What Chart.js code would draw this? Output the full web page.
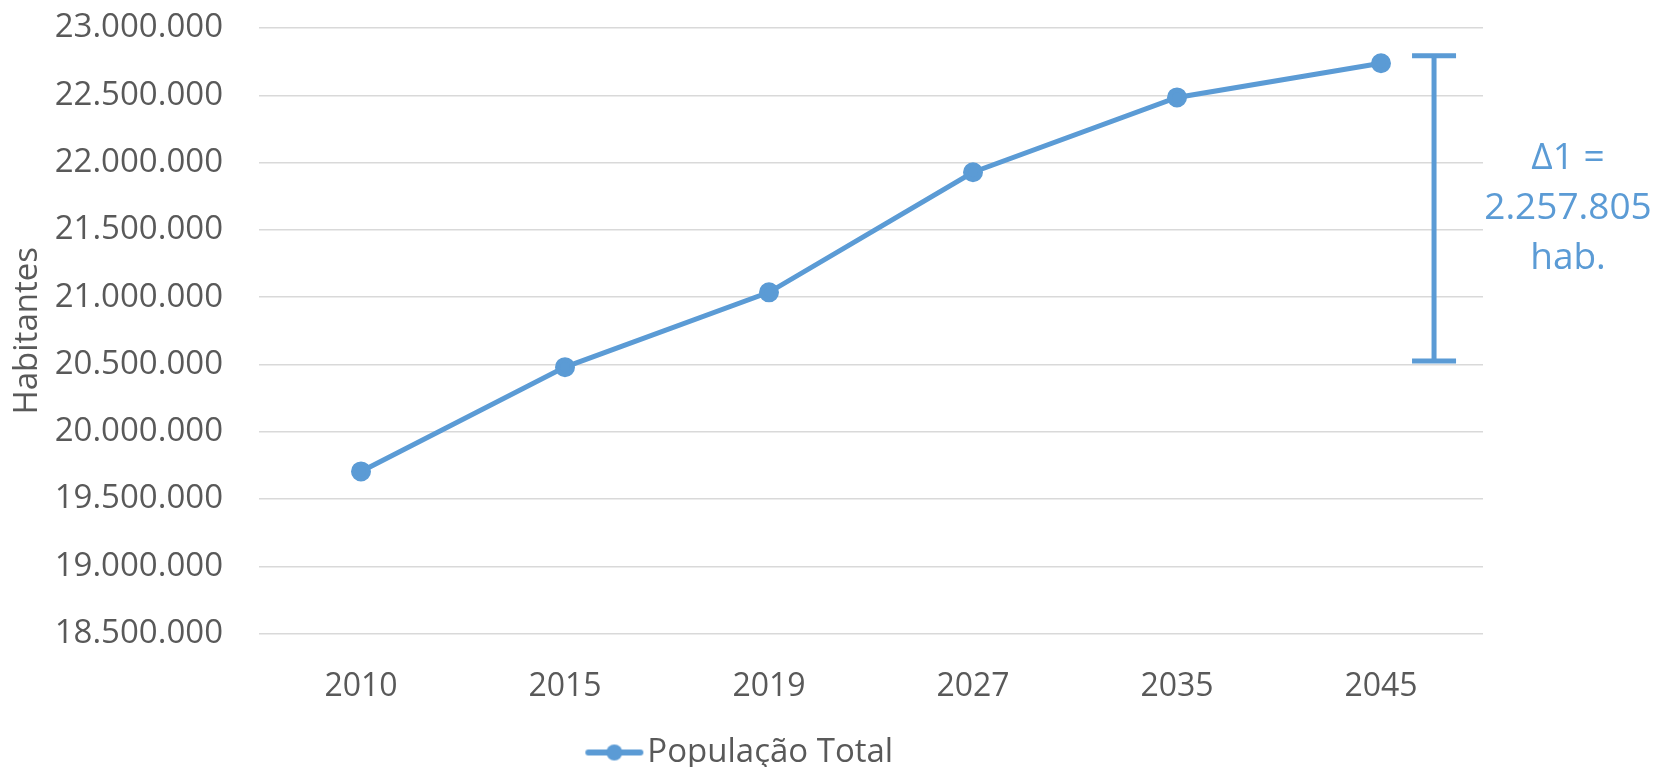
<!DOCTYPE html>
<html>
<head>
<meta charset="utf-8">
<script src="https://cdn.jsdelivr.net/npm/chart.js@4.4.1/dist/chart.umd.min.js"></script>
<style>
  html, body { margin: 0; padding: 0; background: #fff; }
  #wrap { width: 1655px; height: 767px; position: relative; }
</style>
</head>
<body>
<div id="wrap"><canvas id="chart"></canvas></div>
<script>
// População total projetada
const years = ['2010', '2015', '2019', '2027', '2035', '2045'];
const populacao = [19705000, 20480000, 21036000, 21928000, 22484000, 22738000];

// faixa do delta (barra à direita)
const deltaRange = [20526000, 22794000];
const deltaLabel = ['Δ1 =', '2.257.805', 'hab.'];

const BLUE = '#5B9BD5';
const GREY = '#595959';
const FONT = "'Open Sans', sans-serif";

const fmt = (v) => Math.round(v).toString().replace(/\B(?=(\d{3})+(?!\d))/g, '.');

// legend marker: line with a dot
const marker = document.createElement('canvas');
marker.width = 60; marker.height = 18;
(() => {
    const c = marker.getContext('2d');
    c.strokeStyle = BLUE; c.lineWidth = 6; c.lineCap = 'round';
    c.beginPath(); c.moveTo(4, 9); c.lineTo(56, 9); c.stroke();
    c.fillStyle = BLUE;
    c.beginPath(); c.arc(30, 9, 8, 0, Math.PI * 2); c.fill();
})();

const deltaBar = {
    id: 'deltaBar',
    afterDatasetsDraw(chart) {
        const { ctx, scales: { x, y }, chartArea } = chart;
        const px = x.getPixelForValue(5.26);
        const top = y.getPixelForValue(deltaRange[1]);
        const bot = y.getPixelForValue(deltaRange[0]);
        ctx.save();
        ctx.strokeStyle = BLUE;
        ctx.lineWidth = 5;
        ctx.beginPath();
        ctx.moveTo(px, top); ctx.lineTo(px, bot);
        ctx.moveTo(px - 22, top); ctx.lineTo(px + 22, top);
        ctx.moveTo(px - 22, bot); ctx.lineTo(px + 22, bot);
        ctx.stroke();

        ctx.fillStyle = BLUE;
        ctx.font = `37px ${FONT}`;
        ctx.textAlign = 'center';
        ctx.textBaseline = 'middle';
        const cx = chartArea.right + 85;
        const mid = (top + bot) / 2;
        deltaLabel.forEach((t, i) => ctx.fillText(t, cx, mid - 50 + i * 50));
        ctx.restore();
    }
};

new Chart(document.getElementById('chart'), {
    type: 'line',
    data: {
        labels: years,
        datasets: [{
            label: 'População Total',
            data: populacao,
            borderColor: BLUE,
            backgroundColor: BLUE,
            borderWidth: 5,
            pointRadius: 7.5,
            pointBackgroundColor: BLUE,
            pointBorderColor: BLUE,
            tension: 0,
        }]
    },
    options: {
        responsive: true,
        maintainAspectRatio: false,
        animation: false,
        layout: { padding: { left: 8, right: 172, top: 28, bottom: -12 } },
        scales: {
            x: {
                offset: true,
                grid: { display: false },
                border: { display: false },
                ticks: { color: GREY, font: { family: FONT, size: 32 }, padding: 26 },
            },
            y: {
                min: 18500000,
                max: 23000000,
                afterFit: (s) => { s.width = 251; s.paddingTop = 0; s.paddingBottom = 0; },
                grid: { color: '#d9d9d9', lineWidth: 1.5, drawTicks: false },
                border: { display: false },
                ticks: {
                    stepSize: 500000,
                    color: GREY,
                    padding: 36,
                    font: { family: FONT, size: 33 },
                    callback: (v) => fmt(v),
                },
                title: {
                    display: true,
                    text: 'Habitantes',
                    color: GREY,
                    font: { family: FONT, size: 33 },
                    padding: 0,
                }
            }
        },
        plugins: {
            legend: {
                position: 'bottom',
                labels: {
                    color: GREY,
                    font: { family: FONT, size: 33 },
                    usePointStyle: true,
                    pointStyle: marker,
                    padding: 4,
                }
            },
            tooltip: { enabled: false }
        }
    },
    plugins: [deltaBar]
});
</script>
</body>
</html>
